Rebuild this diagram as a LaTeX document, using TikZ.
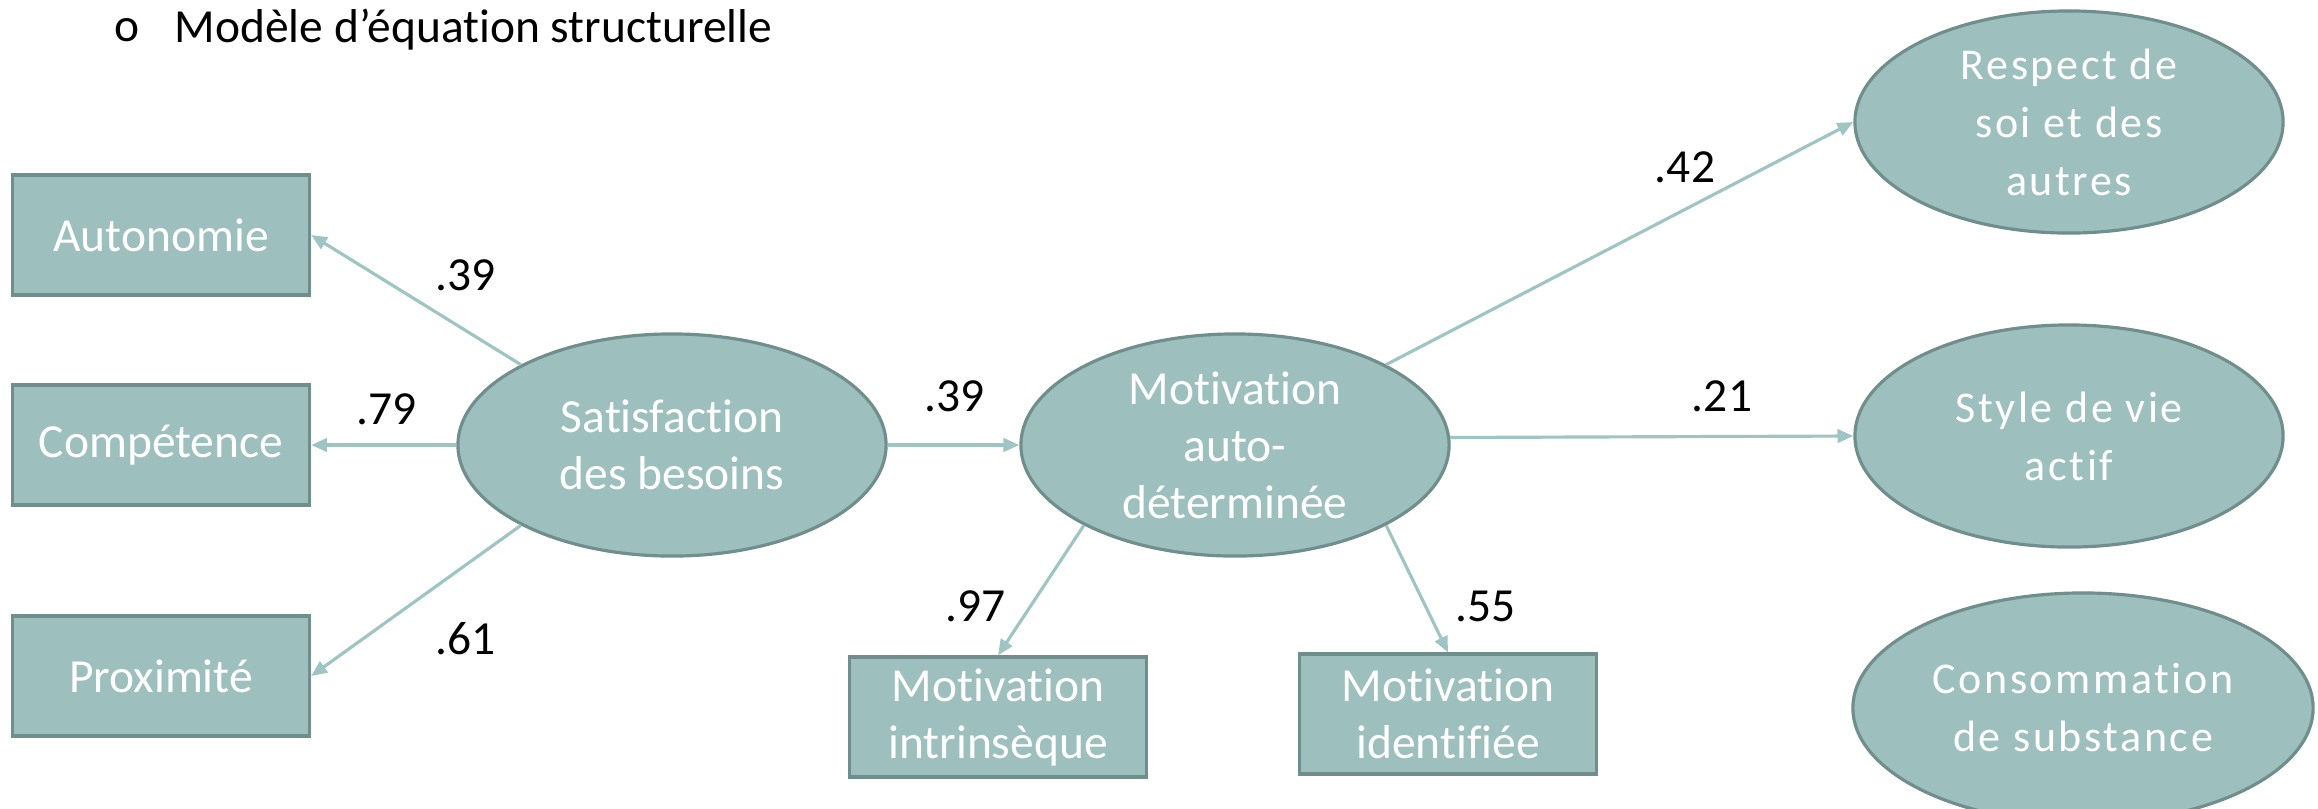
\documentclass[tikz,border=0pt]{standalone}
\usepackage{fontspec}
\setmainfont{Carlito}[Ligatures=NoCommon]
\newfontfamily\spacedfont{Carlito}[Ligatures=NoCommon, LetterSpace=6]
\usetikzlibrary{arrows.meta,shapes.geometric}

\definecolor{shapefill}{HTML}{9DBFBE}
\definecolor{shapeline}{HTML}{6F8E8C}
\definecolor{linkline}{HTML}{9EC5C3}

\begin{document}
\begin{tikzpicture}[x=0.01cm, y=-0.01cm,
        every node/.style={font=\fontsize{13.5}{16.2}\selectfont},
        latent/.style={ellipse, draw=shapeline, fill=shapefill, line width=0.9pt,
                text=white, align=center, inner sep=0pt,
                minimum width=4.28cm, minimum height=2.22cm},
        indicator/.style={rectangle, draw=shapeline, fill=shapefill, line width=0.9pt,
                text=white, align=center, inner sep=0pt,
                minimum width=2.97cm, minimum height=1.2cm},
        outcome/.style={latent, font=\spacedfont\fontsize{12.5}{16.5}\selectfont},
        link/.style={draw=linkline, line width=0.9pt,
                -{Triangle[length=4.5pt, width=3.8pt]}},
        coef/.style={text=black}]
        \useasboundingbox (0, 0) rectangle (2318, 808);

        \node[anchor=west, inner sep=0pt] (bullet) at (114, 30) {o};
        \node[anchor=west, inner sep=0pt] (title) at (174, 30) {Modèle d’équation structurelle};

        \node[indicator] (auto) at (161, 235) {Autonomie};
        \node[indicator] (comp) at (161, 445) {Compétence};
        \node[indicator] (prox) at (161, 676) {Proximité};
        \node[latent] (besoins) at (672, 445) {Satisfaction\\des besoins};
        \node[latent] (motiv) at (1235, 445) {Motivation\\auto-\\déterminée};
        \node[indicator] (intr) at (998, 717) {Motivation\\intrinsèque};
        \node[indicator] (ident) at (1448, 714) {Motivation\\identifiée};
        \node[outcome] (respect) at (2069, 122) {Respect de\\soi et des\\autres};
        \node[outcome] (style) at (2069, 436) {Style de vie\\actif};
        \node[outcome, minimum width=4.6cm, minimum height=2.3cm] (subst) at (2083, 708) {Consommation\\de substance};

        \draw[link] (besoins.152) -- (auto.east);
        \draw[link] (besoins.west) -- (comp.east);
        \draw[link] (besoins.208) -- (prox.east);
        \draw[link] (besoins.east) -- (motiv.west);
        \draw[link] (motiv.208) -- (intr.north);
        \draw[link] (motiv.332) -- (ident.north);
        \draw[link] (motiv.28) -- (respect.west);
        \draw[link] (motiv.2) -- (style.west);

        \node[coef] (c1) at (466, 275) {.39};
        \node[coef] (c2) at (387, 409) {.79};
        \node[coef] (c3) at (466, 639) {.61};
        \node[coef] (c4) at (955, 396) {.39};
        \node[coef] (c5) at (976, 606) {.97};
        \node[coef] (c6) at (1486, 606) {.55};
        \node[coef] (c7) at (1685, 167) {.42};
        \node[coef] (c8) at (1722, 396) {.21};
\end{tikzpicture}
\end{document}
